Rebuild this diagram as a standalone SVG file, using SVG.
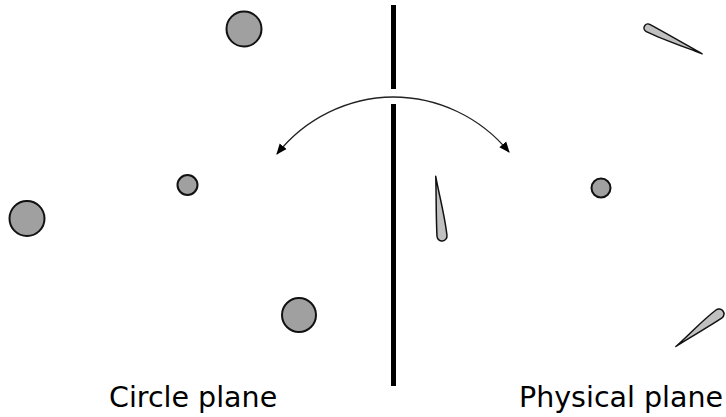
<svg xmlns="http://www.w3.org/2000/svg" width="726" height="417" viewBox="0 0 726 417">
<style>
.c{fill:#a0a0a0;stroke:#111;stroke-width:2}
.f{fill:#c0c0c0;stroke:#111;stroke-width:1.5;stroke-linejoin:round}
.t{font-family:"DejaVu Sans",sans-serif;font-size:28.5px;fill:#000}
</style>
<defs>
<marker id="ah" viewBox="0 0 10 10" refX="9" refY="5" markerWidth="11" markerHeight="11" markerUnits="userSpaceOnUse" orient="auto">
<path d="M0,1 L10,5 L0,9 z" fill="#000"/>
</marker>
</defs>
<rect width="726" height="417" fill="#fff"/>
<g id="divider">
<line x1="393.5" y1="5" x2="393.5" y2="89" stroke="#000" stroke-width="5"/>
<line x1="393.5" y1="104" x2="393.5" y2="386" stroke="#000" stroke-width="5"/>
</g>
<g id="connectors">
<path d="M393,97 A150,150 0 0 0 277,154" fill="none" stroke="#222" stroke-width="1.3" marker-end="url(#ah)"/>
<path d="M393,97 A150,150 0 0 1 509,152" fill="none" stroke="#222" stroke-width="1.3" marker-end="url(#ah)"/>
</g>
<g id="circle-top"><circle class="c" cx="244" cy="29" r="17.5"/></g>
<g id="circle-small"><circle class="c" cx="187.5" cy="185" r="10"/></g>
<g id="circle-left"><circle class="c" cx="27" cy="218.5" r="17.5"/></g>
<g id="circle-bottom"><circle class="c" cx="299" cy="315" r="17"/></g>
<g id="circle-right"><circle class="c" cx="601" cy="188" r="9.5"/></g>
<g id="foil-top"><path class="f" transform="translate(648,28) rotate(25.5)" d="M0,-4 C20,-3 45,-1 60,0 C45,1 20,4 0,4 A4,4 0 0 1 0,-4 z"/></g>
<g id="foil-middle"><path class="f" transform="translate(442,236) rotate(-96)" d="M0,-5 C20,-4 45,-1 60,0 C45,1 20,5 0,5 A5,5 0 0 1 0,-5 z"/></g>
<g id="foil-bottom"><path class="f" transform="translate(719,314) rotate(143)" d="M0,-5 C18,-4 38,-1 54,0 C38,1 18,5 0,5 A5,5 0 0 1 0,-5 z"/></g>
<g id="labels">
<text class="t" x="109" y="406.5">Circle plane</text>
<text class="t" x="519" y="406.5">Physical plane</text>
</g>
</svg>
